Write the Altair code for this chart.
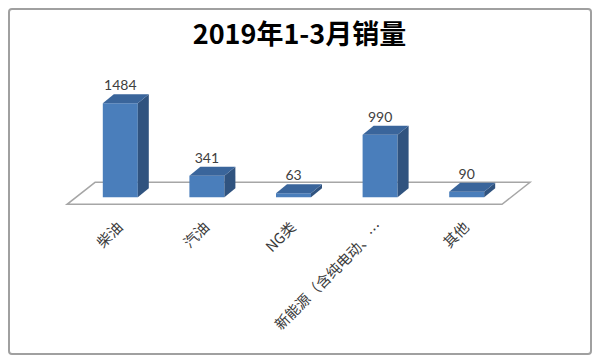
import json
import altair as alt
import pandas as pd

# ---- data ----
categories = ["柴油", "汽油", "NG类", "新能源（含纯电动、…", "其他"]
sales = [1484, 341, 63, 990, 90]
title_text = "2019年1-3月销量"

# ---- layout constants (pixels) ----
PLOT_W = 433
PLOT_H = 152
X_MIN, X_MAX = -0.5, 4.5
Y_MIN, Y_MAX = -200, 2200
PX_X = PLOT_W / (X_MAX - X_MIN)
PX_Y = PLOT_H / (Y_MAX - Y_MIN)

BAR_W = 35 / PX_X
DX = 11 / PX_X
DY = 9 / PX_Y

FRONT_COLOR = "#4a7ebb"
SIDE_COLOR = "#30537f"
TOP_COLOR = "#3a659b"

idx = list(range(len(categories)))

front = pd.DataFrame({"cat": categories, "i": idx, "v": sales})
front["x0"] = front["i"] - BAR_W / 2
front["x1"] = front["i"] + BAR_W / 2
front["zero"] = 0.0

side_rows, top_rows = [], []
for c, i, v in zip(categories, idx, sales):
    xr = i + BAR_W / 2
    xl = i - BAR_W / 2
    side_rows.append({"cat": c, "x": xr, "y": v, "y2": 0.0})
    side_rows.append({"cat": c, "x": xr + DX, "y": v + DY, "y2": DY})
    top_rows.append({"cat": c, "y": v, "x": xl, "x2": xr})
    top_rows.append({"cat": c, "y": v + DY, "x": xl + DX, "x2": xr + DX})
side = pd.DataFrame(side_rows)
top = pd.DataFrame(top_rows)

# floor plane (category-index units / value units)
floor = pd.DataFrame({
    "y": [-7 / PX_Y, 15 / PX_Y],
    "x": [-0.615, -0.292],
    "x2": [4.408, 4.731],
})

xscale = alt.Scale(domain=[X_MIN, X_MAX], nice=False, zero=False)
yscale = alt.Scale(domain=[Y_MIN, Y_MAX], nice=False, zero=False)

label_expr = json.dumps(categories, ensure_ascii=False) + "[datum.value]"
x_axis = alt.Axis(
    values=idx, labelExpr=label_expr, labelAngle=-45, labelAlign="right",
    labelBaseline="middle", labelPadding=15, ticks=False, domain=False,
    grid=False, labelOverlap=False, labelFlush=False, labelBound=False,
    labelFont="Noto Sans CJK SC", labelFontSize=14.5, labelColor="#3a3a3a",
    labelLimit=300, title=None)

floor_layer = alt.Chart(floor).mark_area(
    orient="horizontal", fill="white", stroke="#a6a6a6", strokeWidth=1.5
).encode(
    y=alt.Y("y:Q", scale=yscale, axis=None),
    x=alt.X("x:Q", scale=xscale, axis=x_axis),
    x2="x2:Q",
)

front_layer = alt.Chart(front).mark_rect(color=FRONT_COLOR).encode(
    x=alt.X("x0:Q", scale=xscale, axis=x_axis),
    x2="x1:Q",
    y=alt.Y("v:Q", scale=yscale, axis=None),
    y2="zero:Q",
)

side_layer = alt.Chart(side).mark_area(color=SIDE_COLOR).encode(
    x=alt.X("x:Q", scale=xscale, axis=x_axis),
    y=alt.Y("y:Q", scale=yscale, axis=None),
    y2="y2:Q",
    detail="cat:N",
)

top_layer = alt.Chart(top).mark_area(orient="horizontal", color=TOP_COLOR).encode(
    y=alt.Y("y:Q", scale=yscale, axis=None),
    x=alt.X("x:Q", scale=xscale, axis=x_axis),
    x2="x2:Q",
    detail="cat:N",
)

label_layer = alt.Chart(front).mark_text(
    baseline="bottom", dy=-10, font="Lato", fontSize=14, color="#404040"
).encode(
    x=alt.X("i:Q", scale=xscale, axis=x_axis),
    y=alt.Y("v:Q", scale=yscale, axis=None),
    text="v:Q",
)

border = alt.Chart(pd.DataFrame({"a": [0]})).mark_rect(
    filled=False, stroke="#a0a0a0", strokeWidth=2, cornerRadius=3
).encode(
    x=alt.value(-68), x2=alt.value(514), y=alt.value(-49), y2=alt.value(296)
)

chart = alt.layer(
    border, floor_layer, front_layer, side_layer, top_layer, label_layer
).properties(
    width=PLOT_W,
    height=PLOT_H,
    padding={"left": 69, "top": 50, "right": 82, "bottom": 146},
    autosize=alt.AutoSizeParams(type="none"),
    title=alt.TitleParams(
        text=title_text, font="Noto Sans CJK SC", fontSize=27, fontWeight="bold",
        color="#000000", anchor="middle", frame="group", dx=6, dy=50, offset=8,
    ),
).configure(background="white").configure_view(stroke=None)

chart.save("out.html", embed_options={"renderer": "svg", "actions": False})
